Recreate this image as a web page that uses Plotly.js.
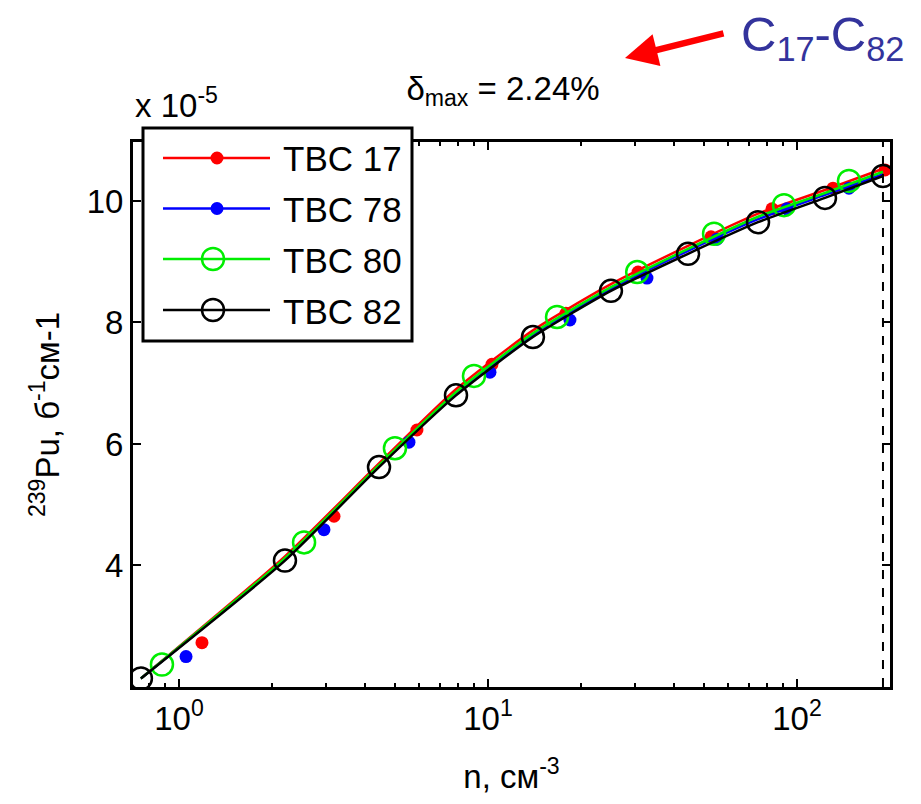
<!DOCTYPE html>
<html>
<head>
<meta charset="utf-8">
<script src="https://cdn.plot.ly/plotly-3.0.1.min.js"></script>
<style>
  html, body { margin: 0; padding: 0; background: #fff; }
  #chart { width: 921px; height: 804px; }
</style>
</head>
<body>
<div id="chart"></div>
<script>
// Microscopic cross-section of 239Pu vs. density for four fuel assemblies (units of 1e-5)

// Smooth curves, sampled on a shared density grid
const nGrid   = [0.753, 2.203, 4.44, 7.88, 13.98, 25.0, 44.4, 74.8, 123.2, 189.8];
const line17  = [2.14, 4.15, 5.68, 6.90, 7.87, 8.63, 9.26, 9.79, 10.18, 10.53];
const line78  = [2.14, 4.10, 5.63, 6.83, 7.79, 8.55, 9.18, 9.70, 10.10, 10.44];
const line80  = [2.14, 4.12, 5.65, 6.85, 7.82, 8.58, 9.21, 9.74, 10.13, 10.48];
const line82  = [2.14, 4.08, 5.62, 6.80, 7.76, 8.52, 9.13, 9.65, 10.05, 10.41];

// Computed points for each assembly
const n17 = [1.187, 3.175, 5.89, 10.30, 17.88, 30.6, 52.7, 83.0, 130.8, 192.7];
const s17 = [2.73, 4.81, 6.23, 7.31, 8.15, 8.83, 9.41, 9.87, 10.21, 10.51];
const n78 = [1.054, 2.946, 5.55, 10.15, 18.42, 32.7, 55.1, 92.8, 147.3];
const s78 = [2.50, 4.59, 6.03, 7.18, 8.04, 8.73, 9.37, 9.87, 10.21];
const n80 = [0.881, 2.54, 5.00, 9.01, 16.73, 30.4, 53.9, 90.8, 147.3];
const s80 = [2.37, 4.38, 5.93, 7.12, 8.09, 8.83, 9.46, 9.93, 10.33];
const n82 = [0.753, 2.203, 4.44, 7.88, 13.98, 25.0, 44.4, 74.8, 123.2, 189.8];
const s82 = [2.14, 4.08, 5.62, 6.80, 7.76, 8.52, 9.13, 9.65, 10.05, 10.41];

const seriesNames = ['TBC 17', 'TBC 78', 'TBC 80', 'TBC 82'];

// Axis settings
const xRange = [0.71, 200];
const yRange = [2.0, 10.97];
const yTicks = [4, 6, 8, 10];
const xTicks = [1, 10, 100];
const xTickText = ['10<sup>0</sup>', '10<sup>1</sup>', '10<sup>2</sup>'];
const xMinor = [0.8, 0.9, 2, 3, 4, 5, 6, 7, 8, 9, 20, 30, 40, 50, 60, 70, 80, 90];
const limitN = 189.8;

const FONT = 'Liberation Sans, Arial, sans-serif';

const styles = [
  { color: '#ff0000', symbol: 'circle',      size: 13, lw: 0,   width: 2.5, filled: true },
  { color: '#0000ff', symbol: 'circle',      size: 13, lw: 0,   width: 2.5, filled: true },
  { color: '#00ee00', symbol: 'circle-open', size: 22, lw: 2.5, width: 2.5, filled: false },
  { color: '#000000', symbol: 'circle-open', size: 22, lw: 2.5, width: 2.5, filled: false }
];
const lineY = [line17, line78, line80, line82];
const ptX = [n17, n78, n80, n82];
const ptY = [s17, s78, s80, s82];

const traces = [];
for (let i = 0; i < 4; i++) {
  const st = styles[i];
  traces.push({
    x: nGrid, y: lineY[i], mode: 'lines', showlegend: false, hoverinfo: 'skip',
    line: { color: st.color, width: st.width, shape: 'spline', smoothing: 0.6 }
  });
  traces.push({
    x: ptX[i], y: ptY[i], mode: 'markers', showlegend: false, name: seriesNames[i],
    marker: { color: st.color, symbol: st.symbol, size: st.size,
              line: { color: st.color, width: st.lw } }
  });
}

// Plot area in pixels, used to place the key box in paper coordinates
const PL = 133, PR = 890, PT = 142, PB = 687;
const px2x = (px) => (px - PL) / (PR - PL);
const px2y = (py) => (PB - py) / (PB - PT);

// Key: framed box with long line samples, a marker on each, and the names
const keyBox = { l: 143, r: 412, t: 128, b: 341 };
const keyRows = [158, 208.5, 259, 310];
const keyLine = { l: 163, r: 270 };
const keyMarkX = [217, 217, 213, 213];
const keyText = 281;

const shapes = [{
  type: 'line', xref: 'x', yref: 'paper', x0: limitN, x1: limitN, y0: 0, y1: 1,
  line: { color: '#000', width: 2, dash: 'dash' }
}, {
  type: 'rect', xref: 'paper', yref: 'paper', layer: 'above',
  x0: px2x(keyBox.l), x1: px2x(keyBox.r), y0: px2y(keyBox.b), y1: px2y(keyBox.t),
  fillcolor: '#fff', line: { color: '#000', width: 3 }
}];
const annotations = [];
for (let i = 0; i < 4; i++) {
  const st = styles[i];
  const yy = px2y(keyRows[i]);
  shapes.push({
    type: 'line', xref: 'paper', yref: 'paper', layer: 'above',
    x0: px2x(keyLine.l), x1: px2x(keyLine.r), y0: yy, y1: yy,
    line: { color: st.color, width: st.width }
  });
  const r = st.size / 2;
  shapes.push({
    type: 'circle', xref: 'paper', yref: 'paper', layer: 'above',
    xsizemode: 'pixel', ysizemode: 'pixel',
    xanchor: px2x(keyMarkX[i]), yanchor: yy,
    x0: -r, x1: r, y0: -r, y1: r,
    fillcolor: st.filled ? st.color : 'rgba(0,0,0,0)',
    line: { color: st.color, width: st.filled ? 0 : st.lw }
  });
  annotations.push({
    text: seriesNames[i], xref: 'paper', yref: 'paper',
    x: px2x(keyText), xanchor: 'left', y: px2y(keyRows[i] + 1), yanchor: 'middle',
    showarrow: false, font: { family: FONT, size: 35, color: '#000' }
  });
}

annotations.push(
  {
    text: 'x 10<sup>-5</sup>', xref: 'paper', yref: 'paper',
    x: 0.0, xanchor: 'left', y: px2y(126), yanchor: 'bottom',
    showarrow: false, font: { family: FONT, size: 33, color: '#000' }
  },
  {
    text: 'C<sub>17</sub>-C<sub>82</sub>', xref: 'paper', yref: 'paper',
    x: px2x(822), xanchor: 'center', y: px2y(37), yanchor: 'middle',
    showarrow: false, font: { family: FONT, size: 49, color: '#33339c' }
  },
  {
    text: '', xref: 'paper', yref: 'paper',
    x: px2x(625), y: px2y(58),
    showarrow: true, axref: 'pixel', ayref: 'pixel', ax: 100, ay: -25,
    arrowcolor: '#ff0000', arrowwidth: 6.5, arrowhead: 2, arrowsize: 1.0
  }
);

const axisCommon = {
  showgrid: false, zeroline: false,
  linecolor: '#000', linewidth: 3, mirror: 'ticks',
  ticks: 'inside', ticklen: 8, tickwidth: 2, tickcolor: '#000',
  tickfont: { family: FONT, size: 33, color: '#000' }
};

const layout = {
  width: 921, height: 804,
  paper_bgcolor: '#fff', plot_bgcolor: '#fff',
  margin: { l: PL, r: 921 - PR, t: PT, b: 804 - PB, autoexpand: false },
  font: { family: FONT, color: '#000' },
  showlegend: false,
  title: {
    text: 'δ<sub>max</sub> = 2.24%',
    font: { family: FONT, size: 33, color: '#000' },
    xref: 'container', yref: 'container',
    x: 503 / 921, xanchor: 'center', y: 1 - 88 / 804, yanchor: 'middle'
  },
  xaxis: Object.assign({}, axisCommon, {
    type: 'log', range: [Math.log10(xRange[0]), Math.log10(xRange[1])],
    tickmode: 'array', tickvals: xTicks, ticktext: xTickText,
    minor: { tickmode: 'array', tickvals: xMinor, ticks: 'inside', ticklen: 4,
             tickwidth: 2, tickcolor: '#000', showgrid: false },
    title: { text: 'n, см<sup>-3</sup>', font: { family: FONT, size: 33, color: '#000' }, standoff: 30 }
  }),
  yaxis: Object.assign({}, axisCommon, {
    range: yRange, tickmode: 'array', tickvals: yTicks,
    title: { text: '<sup>239</sup>Pu, б<sup>-1</sup>см-1', font: { family: FONT, size: 33, color: '#000' }, standoff: 18 }
  }),
  shapes: shapes,
  annotations: annotations
};

Plotly.newPlot('chart', traces, layout, { displayModeBar: false, staticPlot: true });
</script>
</body>
</html>
